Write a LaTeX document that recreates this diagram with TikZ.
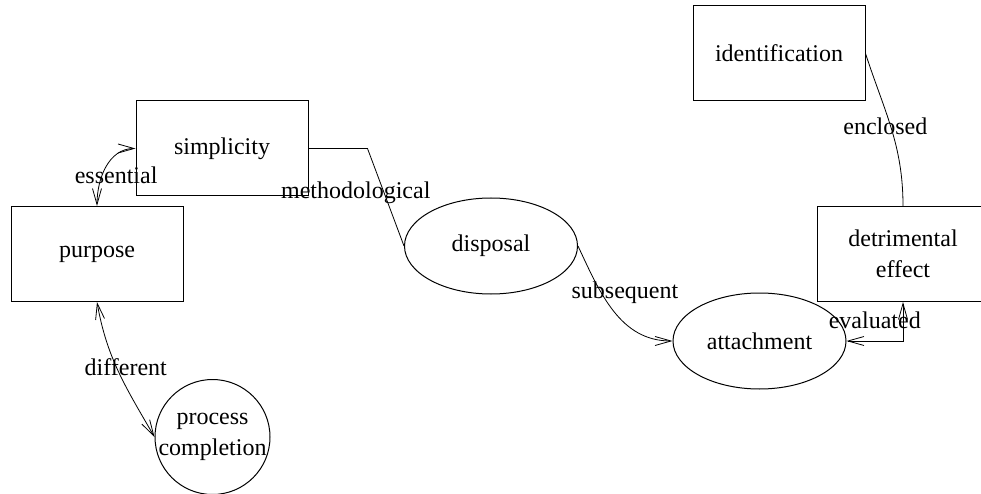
\documentclass[tikz,border=0pt]{standalone}
\usepackage{fontspec}
\setmainfont{Liberation Serif}
\usetikzlibrary{arrows.meta,shapes.geometric}

\begin{document}
\begin{tikzpicture}[
  x=1pt, y=1pt,
  font=\fontsize{24}{31}\selectfont,
  >={Straight Barb[length=16pt, width=9pt]},
  box/.style={draw, line width=1pt, minimum width=172pt, minimum height=95pt, align=center, inner sep=0pt},
  oval/.style={draw, ellipse, line width=1pt, minimum width=173pt, minimum height=96pt, inner sep=0pt},
  ring/.style={draw, circle, line width=1pt, minimum size=115pt, inner sep=-8pt, align=center},
  link/.style={line width=0.8pt},
  lbl/.style={inner sep=0pt},
]

\useasboundingbox (0,0) rectangle (981,-494);

% ================= concept nodes =================
\node[box] (simplicity) at (222,-148.5) {simplicity};
\node[box] (purpose) at (97,-254) {purpose};
\node[box] (identification) at (779,-53.5) {identification};
\node[box] (detrimental) at (903,-254) {detrimental\\effect};
\node[oval] (disposal) at (491,-246) {disposal};
\node[oval] (attachment) at (759.5,-341) {attachment};
\node[ring] (completion) at (212.5,-437) {process\\completion};

% ================= connectors =================
\draw[link, <->] (purpose.north) to[out=90, in=180]
  node[lbl, pos=0.5, xshift=10pt, yshift=-8pt]{essential} (simplicity.west);
\draw[link, <->] (purpose.south) to[out=-80, in=120]
  node[lbl, pos=0.5, xshift=7pt, yshift=5pt]{different} (completion.west);
\draw[link] (simplicity.east) -- ++(59,0)
  -- node[lbl, pos=0.5, xshift=-30pt, yshift=4pt]{methodological} (disposal.west);
\draw[link, ->] (disposal.east) to[out=-65, in=180]
  node[lbl, pos=0.5, xshift=11pt, yshift=19pt]{subsequent} (attachment.west);
\draw[link, <->] (detrimental.south) |-
  node[lbl, pos=0.75, yshift=21pt]{evaluated} (attachment.east);
\draw[link] (identification.east) to[out=-72, in=90]
  node[lbl, pos=0.5, xshift=-6pt, yshift=2pt]{enclosed} (detrimental.north);

\end{tikzpicture}
\end{document}
